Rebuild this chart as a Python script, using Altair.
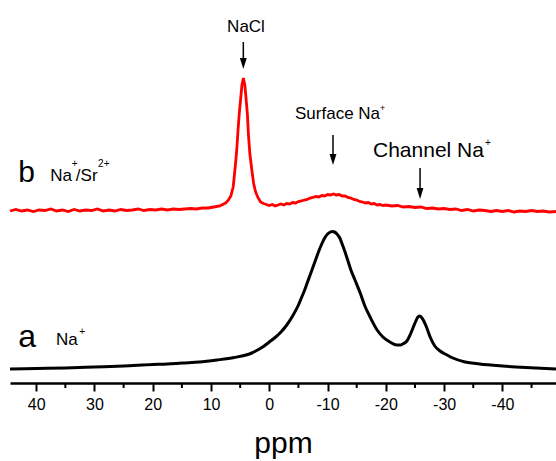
import altair as alt
import pandas as pd

# ---- data ----
black_ppm = [44.5, 40, 35, 30, 25, 20, 17.5, 15, 12, 9, 6, 4, 3, 2, 1, 0, -1, -2, -3, -4, -5, -5.5, -6,
             -6.5, -7, -7.5, -8, -8.5, -9, -9.5, -10, -10.5, -10.8, -11.2, -11.6, -12.1, -12.5, -13,
             -13.5, -14, -14.7, -15.6, -16.4, -17.3, -18.5, -19.5, -20.7, -21.9, -22.5, -22.9, -23.6,
             -24.3, -25, -25.5, -25.8, -26.2, -26.9, -27.6, -28.4, -29.3, -30.5, -31.5, -33.6, -36.1,
             -40, -44, -49.2]
black_int = [14, 14.5, 15, 16, 17, 18.5, 19, 20, 21, 23, 25.5, 28, 30, 33, 36.5, 41, 45.5, 51, 58, 67,
             78, 85, 92, 100, 108, 116, 124, 132, 139, 145, 149, 151, 151.5, 151, 149, 145, 139, 131,
             122, 113, 103, 90, 77, 66, 53, 46, 41, 38, 38, 39, 42, 50, 60, 66, 67, 65, 57, 46, 37,
             32, 28, 25, 21, 19, 17, 15.5, 14]

red_ppm = [44.5, 43.5, 42.5, 41.5, 40.5, 39.5, 38.5, 37.5, 36.5, 35.5, 34.5, 33.5, 32.5, 31.5, 30.5,
           29.5, 28.5, 27.5, 26.5, 25.5, 24.5, 23.5, 22.5, 21.5, 20.5, 19.5, 18.5, 17.5, 16.5, 15.5,
           14.5, 13.5, 12.5, 11.5, 10.5, 9.5, 8.5, 7.5, 7.0, 6.6, 6.2, 5.9, 5.6, 5.4, 5.15, 4.9, 4.7,
           4.45, 4.2, 4.0, 3.75, 3.6, 3.35, 3.0, 2.7, 2.4, 2.0, 1.5, 1.0, 0.5, 0, -0.5, -1.0, -1.5,
           -2.0, -2.5, -3.0, -3.5, -4.0, -4.5, -5.0, -5.5, -6.0, -6.5, -7.0, -7.5, -8.0, -8.5, -9.0,
           -9.5, -10.0, -10.5, -11.0, -11.5, -12.0, -12.5, -13.0, -13.5, -14.0, -14.5, -15.0, -15.5,
           -16.0, -16.5, -17.0, -17.5, -18.0, -18.5, -19.0, -19.5, -20.0, -21.0, -22.0, -23.0, -24.0,
           -25.0, -26.0, -27.0, -28.0, -29.0, -30.0, -31.0, -32.0, -33.0, -34.0, -35.0, -36.0, -37.0,
           -38.0, -39.0, -40.0, -41.0, -42.0, -43.0, -44.0, -45.0, -46.0, -47.0, -48.0, -49.2]
red_int = [172, 173.5, 172, 173, 171.5, 173, 172.5, 174, 172, 173, 171.5, 173.5, 172, 173, 172.5,
           174, 172, 173, 172, 173.5, 172.5, 173, 174, 172.5, 173.5, 173, 174, 173, 174, 173.5,
           174, 174.5, 174, 175, 175, 176, 177, 180, 183, 187, 196, 213, 232, 250, 270, 285, 298,
           305, 298, 285, 268, 250, 230, 213, 200, 192, 186, 181, 179.5, 178.5, 177.5, 178.5, 177,
           178, 179, 178, 179.5, 179, 180.5, 180, 181.5, 182, 183, 183.5, 185, 185.5, 186.5, 186,
           187.5, 187, 188.5, 188, 189, 188, 188.5, 187, 187, 185.5, 185, 183.5, 183, 181.5,
           181, 180, 180.5, 179, 179.5, 178, 178.5, 177.5, 178, 177, 177.5, 176, 176.5,
           175.5, 176, 174.5, 175, 174, 174.5, 173.5, 174, 172.5, 173.5, 172, 173, 172.5,
           171.5, 172.5, 171.5, 172.5, 171, 172, 171.5, 172.5, 171.5, 172, 171, 171.5]

major_ticks = [40, 30, 20, 10, 0, -10, -20, -30, -40]
minor_ticks = [35, 25, 15, 5, -5, -15, -25, -35, -45]

# annotation texts
txt_text = ["b", "Na", "+", "/Sr", "2", "+", "a", "Na", "+", "NaCl", "Surface Na", "+", "Channel Na", "+"]
txt_ppm = [43.1, 37.6, 33.9, 33.2, 29.4, 28.4, 43.1, 36.6, 32.6, 4.0, -4.41, -19.0, -17.8, -37.0]
txt_int = [201, 202, 216, 202, 216, 216, 36, 38, 48, 351, 264, 272, 226, 237]
txt_size = [30, 17, 10, 17, 10, 10, 32, 17, 10, 17, 17, 9, 21, 10]
txt_align = ["left", "left", "left", "left", "left", "left", "left", "left", "left", "center",
             "left", "left", "left", "left"]

# arrows
arr_ppm = [4.46, -10.93, -25.87]
arr_top = [341, 248, 215]
arr_tip = [314, 218, 184]

XDOM = [44.5, -49.2]
YDOM = [0, 383]
W, H = 546, 383
FONT = "Liberation Sans"

black_df = pd.DataFrame({"ppm": black_ppm, "v": black_int})
red_df = pd.DataFrame({"ppm": red_ppm, "v": red_int})
txt_df = pd.DataFrame({"t": txt_text, "ppm": txt_ppm, "v": txt_int, "s": txt_size, "al": txt_align})
arr_df = pd.DataFrame({"ppm": arr_ppm, "top": arr_top, "tip": arr_tip})
arr_df["shaft_end"] = arr_df["tip"] + 4
minor_df = pd.DataFrame({"ppm": minor_ticks})

xs = alt.Scale(domain=XDOM, nice=False, zero=False)
ys = alt.Scale(domain=YDOM, nice=False, zero=False)

x_axis = alt.Axis(values=major_ticks, title="ppm", labelFont=FONT, labelFontSize=16,
                  labelExpr="'' + datum.value",
                  labelColor="black", labelPadding=5, tickSize=8, tickWidth=2, tickColor="black",
                  domainColor="black", domainWidth=2.5, titleFont=FONT, titleFontSize=30,
                  titleFontWeight="normal", titleColor="black", titleBaseline="alphabetic",
                  titleY=69, grid=False, labelFlush=False)

black = alt.Chart(black_df).mark_line(color="black", strokeWidth=3, interpolate="monotone").encode(
    x=alt.X("ppm:Q", scale=xs, axis=x_axis),
    y=alt.Y("v:Q", scale=ys, axis=None),
)
red = alt.Chart(red_df).mark_line(color="#ff0000", strokeWidth=2.8, interpolate="linear").encode(
    x=alt.X("ppm:Q", scale=xs),
    y=alt.Y("v:Q", scale=ys),
)
minor = alt.Chart(minor_df).mark_rule(color="black", strokeWidth=2).encode(
    x=alt.X("ppm:Q", scale=xs),
    y=alt.value(H),
    y2=alt.value(H + 5),
)
shafts = alt.Chart(arr_df).mark_rule(color="black", strokeWidth=1.5).encode(
    x=alt.X("ppm:Q", scale=xs),
    y=alt.Y("top:Q", scale=ys),
    y2="shaft_end:Q",
)
heads = alt.Chart(arr_df).mark_point(
    shape="M-0.62,-2 L0.62,-2 L0,0 Z", filled=True, color="black", opacity=1, size=121
).encode(
    x=alt.X("ppm:Q", scale=xs),
    y=alt.Y("tip:Q", scale=ys),
)

text_layers = []
for al in ["left", "center"]:
    text_layers.append(
        alt.Chart(txt_df[txt_df["al"] == al]).mark_text(
            font=FONT, color="black", align=al, baseline="alphabetic"
        ).encode(
            x=alt.X("ppm:Q", scale=xs),
            y=alt.Y("v:Q", scale=ys),
            text="t:N",
            size=alt.Size("s:Q", scale=None, legend=None),
        )
    )

chart = alt.layer(black, red, minor, shafts, heads, *text_layers).properties(
    width=W, height=H,
    autosize=alt.AutoSizeParams(type="none"),
    padding={"left": 10, "top": 0, "right": 0, "bottom": 78},
    background="white",
).configure_view(stroke=None)

chart.save("out.html", embed_options={"renderer": "svg", "actions": False})
